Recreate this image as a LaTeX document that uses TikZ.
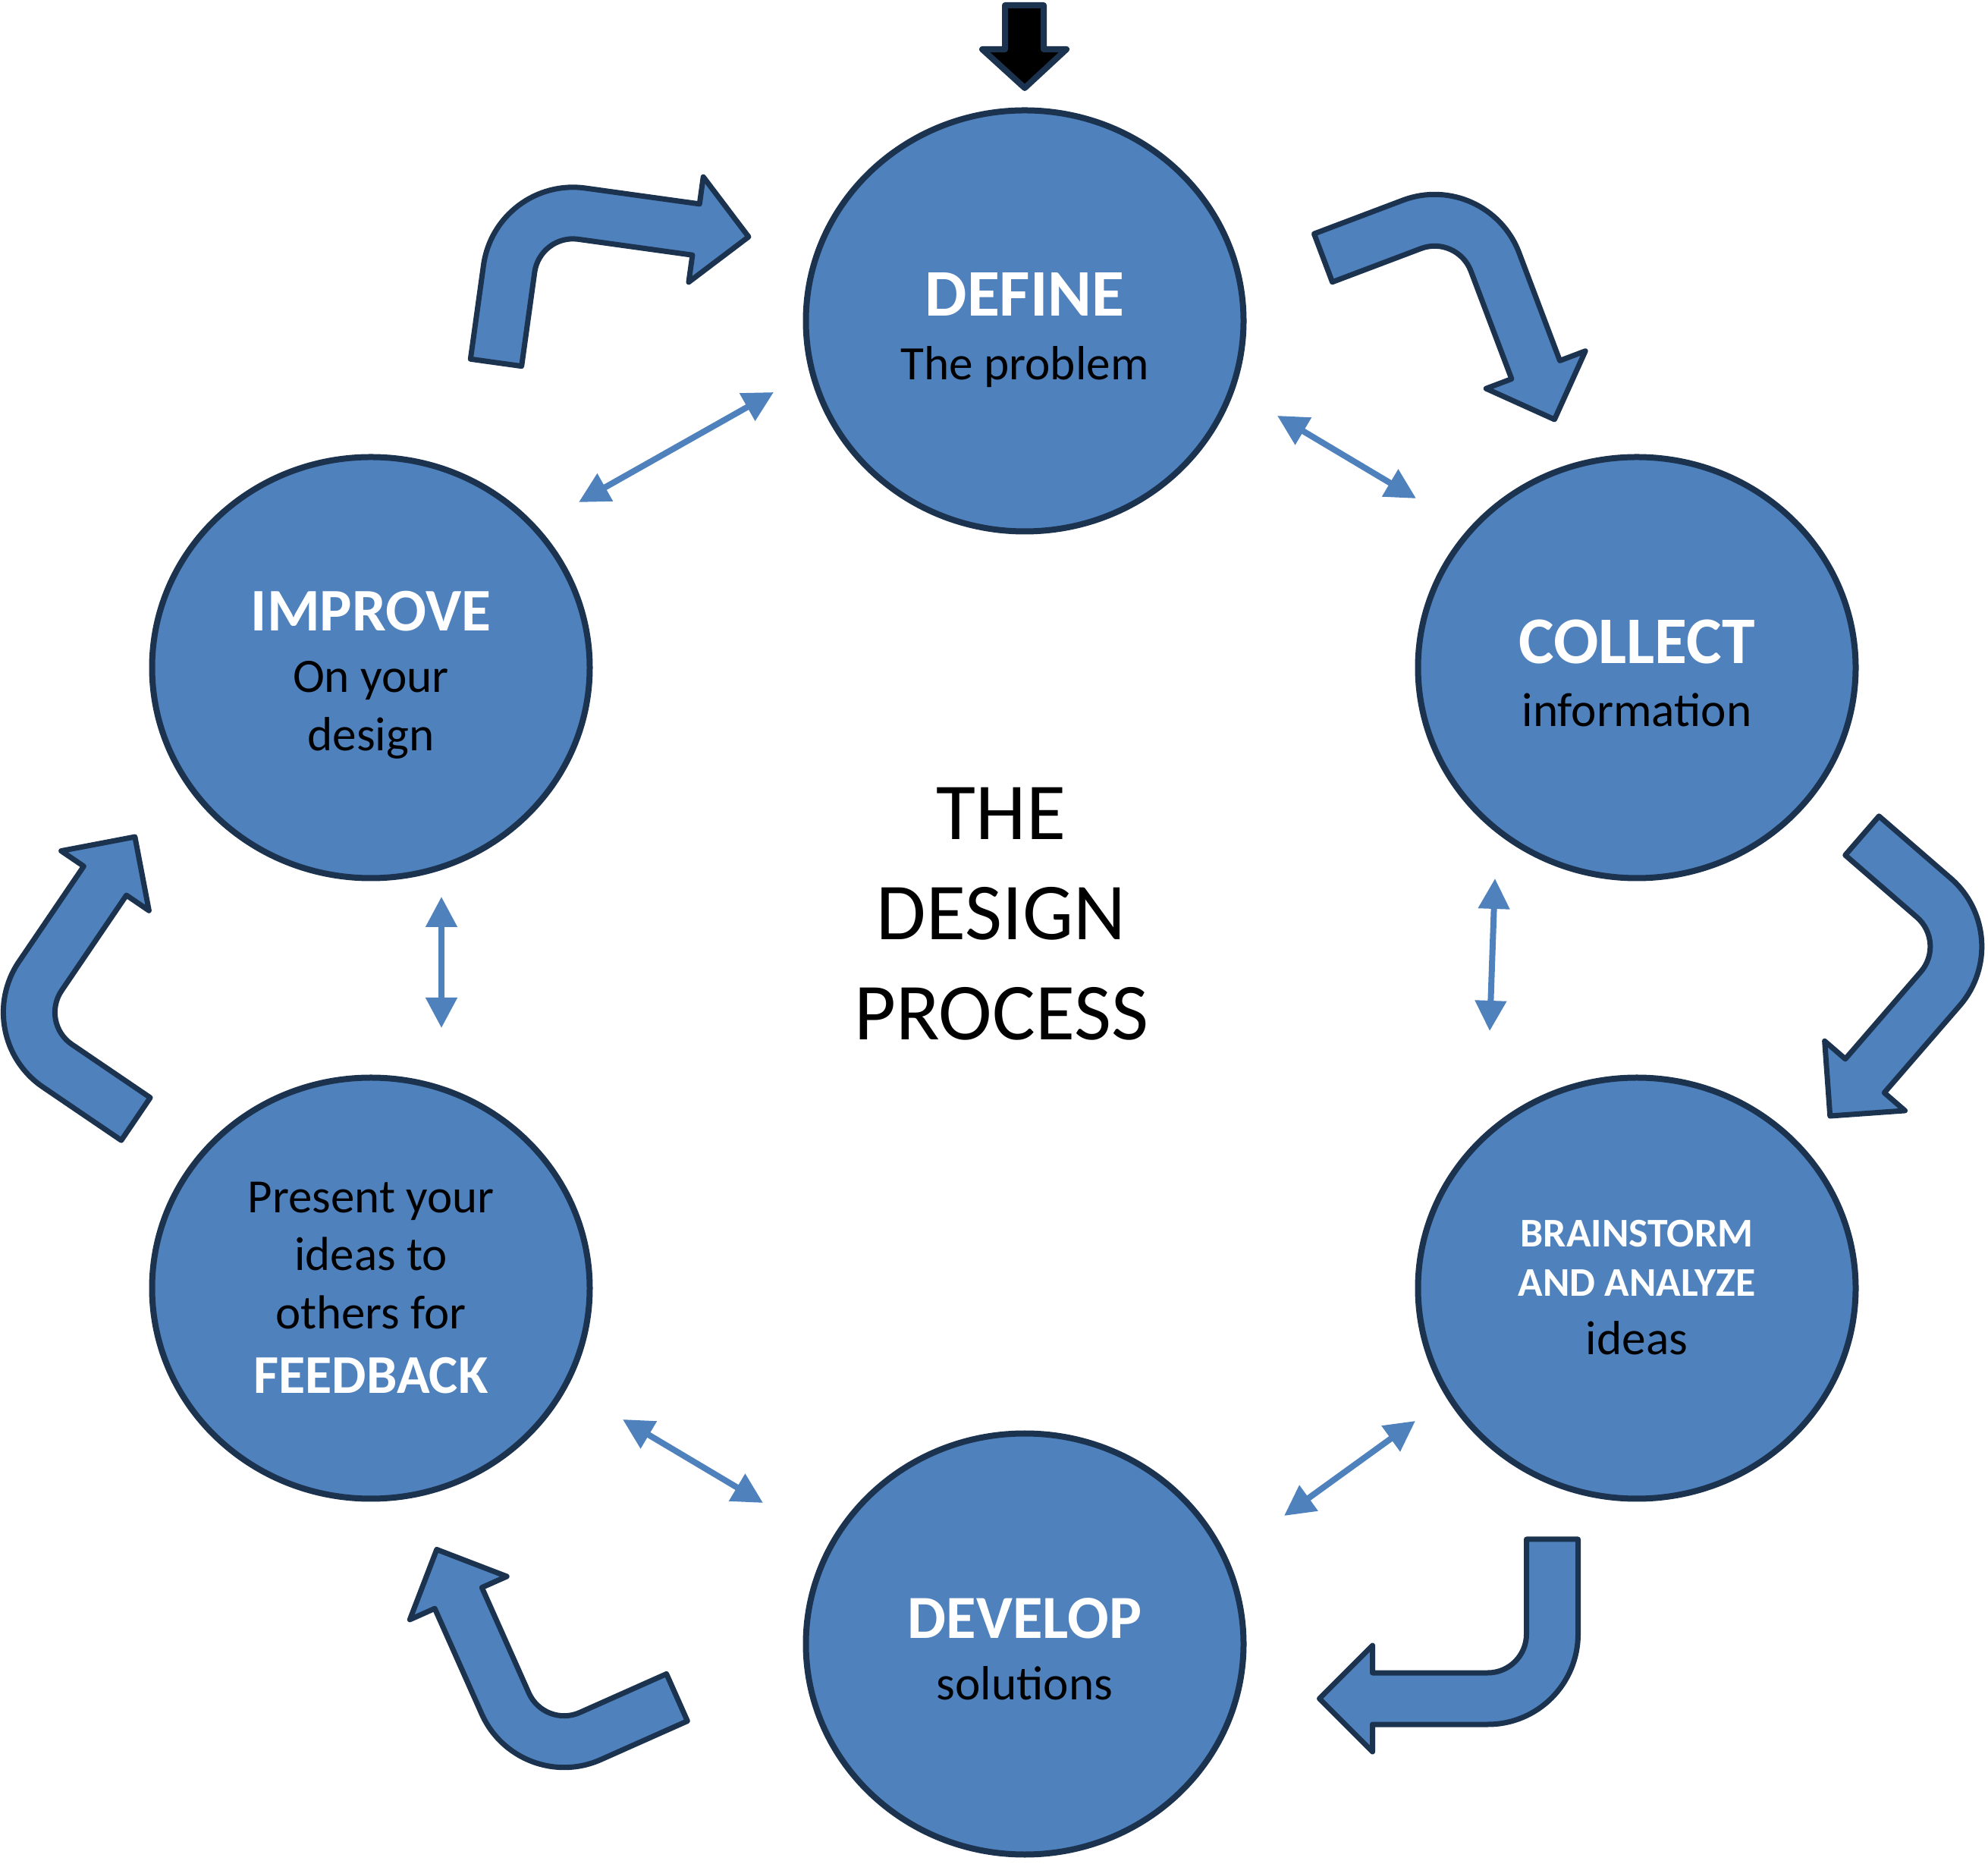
\documentclass[tikz,border=0pt]{standalone}
\usepackage{fontspec}
\setmainfont{Carlito}
\usetikzlibrary{arrows.meta, calc, shapes.geometric}
\definecolor{stageblue}{RGB}{79,129,189}
\definecolor{navyline}{RGB}{28,51,80}
\newcommand{\topgap}[1]{\rule{0pt}{#1}}
\newcommand{\botgap}[1]{\rule[-#1]{0pt}{#1}}
\newcommand{\keyword}[2]{{\fontsize{#1}{#1}\selectfont\bfseries\color{white}#2}}

\begin{document}
\begin{tikzpicture}[>={Triangle[length=4mm, width=4mm]},
  stage/.style={ellipse, draw=navyline, fill=stageblue, line width=0.8mm, minimum width=5.77cm, minimum height=5.55cm, inner sep=0pt, align=center},
  link/.style={<->, draw=stageblue, line width=0.8mm},
  bendline/.style={draw=navyline, fill=stageblue, line width=0.7mm, line join=round},
  bentarrow/.pic={\draw[bendline] (-0.34,0) -- (-0.34,1.25) arc[start angle=180, end angle=90, radius=1.19] -- (2.37,2.44) -- (2.37,2.80) -- (3.07,2.10) -- (2.37,1.40) -- (2.37,1.76) -- (0.85,1.76) arc[start angle=90, end angle=180, radius=0.51] -- (0.34,0) -- cycle;}]
  \useasboundingbox (0,0) rectangle (26.21,24.56);
  \node[stage, font=\fontsize{18}{23.9}\selectfont] (define) at (13.51,20.33) {\keyword{25}{DEFINE}\topgap{1.22cm}\\ The problem\botgap{0.5cm}};
  \node[stage, font=\fontsize{18}{23.5}\selectfont] (collect) at (21.58,15.76) {\keyword{25}{COLLECT}\topgap{1.22cm}\\ information\botgap{0.5cm}};
  \node[stage, font=\fontsize{18}{18.5}\selectfont] (brainstorm) at (21.58,7.58) {\keyword{15.3}{BRAINSTORM}\topgap{0.83cm}\\ \keyword{15.3}{AND ANALYZE}\\[0.11cm] ideas\botgap{0.5cm}};
  \node[stage, font=\fontsize{18}{22.8}\selectfont] (develop) at (13.51,2.89) {\keyword{23}{DEVELOP}\topgap{1.16cm}\\ solutions\botgap{0.5cm}};
  \node[stage, font=\fontsize{17.9}{21.8}\selectfont] (feedback) at (4.89,7.58) {Present your\topgap{0.89cm}\\ ideas to\\ others for\\[0.09cm] \keyword{20.5}{FEEDBACK}\botgap{0.5cm}};
  \node[stage, font=\fontsize{18}{21.9}\selectfont] (improve) at (4.89,15.76) {\keyword{22.7}{IMPROVE}\topgap{1.11cm}\\[0.05cm] On your\\ design\botgap{0.5cm}};
  \node[font=\fontsize{30.3}{37.6}\selectfont, align=center] (title) at (13.20,12.51) {THE\\ DESIGN\\ PROCESS};
  % start arrow into the first stage
  \draw[draw=navyline, fill=black, line width=0.8mm, line join=round, shift={(define.north)}] (-0.26,1.345) -- (0.25,1.345) -- (0.25,0.765) -- (0.55,0.765) -- (0,0.255) -- (-0.56,0.765) -- (-0.26,0.765) -- cycle;
  % cycle arrows
  \pic[rotate=-7.9] at (6.54,19.78) {bentarrow};
  \pic[rotate=-69.3] at (17.445,21.16) {bentarrow};
  \pic[rotate=-130.9] at (24.55,13.545) {bentarrow};
  \pic[rotate=180] at (20.465,4.27) {bentarrow};
  \pic[rotate=114] at (8.925,2.185) {bentarrow};
  \pic[rotate=55.8] at (1.79,9.81) {bentarrow};
  % links between neighbouring stages
  \draw[link] ($(improve.center)+(2.74,2.18)$) -- ($(define.center)+(-3.31,-0.94)$);
  \draw[link] ($(define.center)+(3.33,-1.25)$) -- ($(collect.center)+(-2.91,2.23)$);
  \draw[link] ($(collect.center)+(-1.87,-2.78)$) -- ($(brainstorm.center)+(-1.94,3.39)$);
  \draw[link] ($(brainstorm.center)+(-2.92,-1.75)$) -- ($(develop.center)+(3.42,1.69)$);
  \draw[link] ($(develop.center)+(-3.45,1.86)$) -- ($(feedback.center)+(3.32,-1.73)$);
  \draw[link] ($(feedback.center)+(0.93,3.43)$) -- ($(improve.center)+(0.93,-3.02)$);
\end{tikzpicture}
\end{document}
